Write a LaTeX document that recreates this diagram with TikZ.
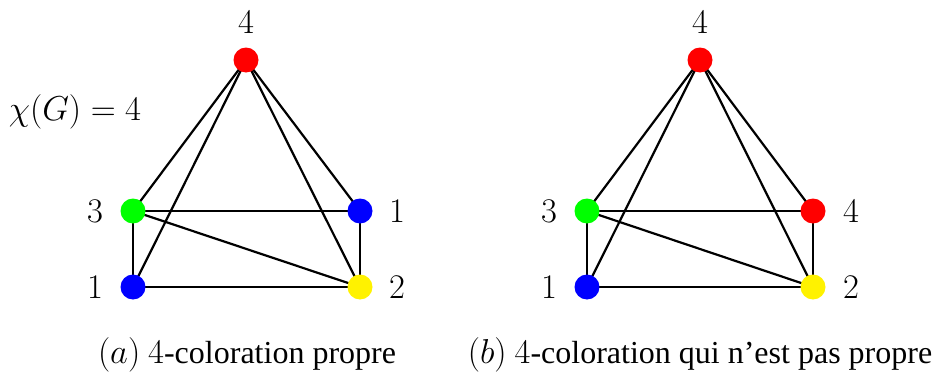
\documentclass[tikz,border=0pt]{standalone}
\usepackage[no-math]{fontspec}
\setmainfont{LiberationSerif}[Extension=.ttf, UprightFont=*-Regular, BoldFont=*-Bold, ItalicFont=*-Italic]
\begin{document}
\begin{tikzpicture}[x=0.5pt,y=-0.5pt,line width=1.1pt,
  vtx/.style={circle, fill=#1, inner sep=0pt, minimum size=12.5pt},
  lbl/.style={font=\fontsize{16}{19}\selectfont},
  captxt/.style={font=\rmfamily\fontsize{16}{19}\selectfont}]
\useasboundingbox (0,0) rectangle (934,380);

% (a) proper colouring
\coordinate (a1) at (246,60);
\coordinate (a2) at (133,211);
\coordinate (a3) at (360,211);
\coordinate (a4) at (133,287);
\coordinate (a5) at (360,287);

\draw (a1)--(a2);
\draw (a1)--(a3);
\draw (a1)--(a4);
\draw (a1)--(a5);
\draw (a2)--(a3);
\draw (a2)--(a4);
\draw (a2)--(a5);
\draw (a3)--(a5);
\draw (a4)--(a5);

\node[vtx=red] (v1) at (a1) {};
\node[vtx=green] (v2) at (a2) {};
\node[vtx=blue] (v3) at (a3) {};
\node[vtx=blue] (v4) at (a4) {};
\node[vtx=yellow] (v5) at (a5) {};

\node[lbl] (l1) at (246,22) {$4$};
\node[lbl] (l2) at (95,211) {$3$};
\node[lbl] (l3) at (397,211) {$1$};
\node[lbl] (l4) at (95,287) {$1$};
\node[lbl] (l5) at (397,287) {$2$};
\node[lbl] (chi) at (75,112) {$\chi(G)=4$};
\node[captxt] (capa) at (247,355) {$(a)$ $4$-coloration propre};

% (b) colouring that is not proper
\coordinate (b1) at (700,60);
\coordinate (b2) at (587,211);
\coordinate (b3) at (813,211);
\coordinate (b4) at (587,287);
\coordinate (b5) at (813,287);

\draw (b1)--(b2);
\draw (b1)--(b3);
\draw (b1)--(b4);
\draw (b1)--(b5);
\draw (b2)--(b3);
\draw (b2)--(b4);
\draw (b2)--(b5);
\draw (b3)--(b5);
\draw (b4)--(b5);

\node[vtx=red] (w1) at (b1) {};
\node[vtx=green] (w2) at (b2) {};
\node[vtx=red] (w3) at (b3) {};
\node[vtx=blue] (w4) at (b4) {};
\node[vtx=yellow] (w5) at (b5) {};

\node[lbl] (m1) at (700,22) {$4$};
\node[lbl] (m2) at (549,211) {$3$};
\node[lbl] (m3) at (851,211) {$4$};
\node[lbl] (m4) at (549,287) {$1$};
\node[lbl] (m5) at (851,287) {$2$};
\node[captxt] (capb) at (700,355) {$(b)$ $4$-coloration qui n’est pas propre};
\end{tikzpicture}
\end{document}
